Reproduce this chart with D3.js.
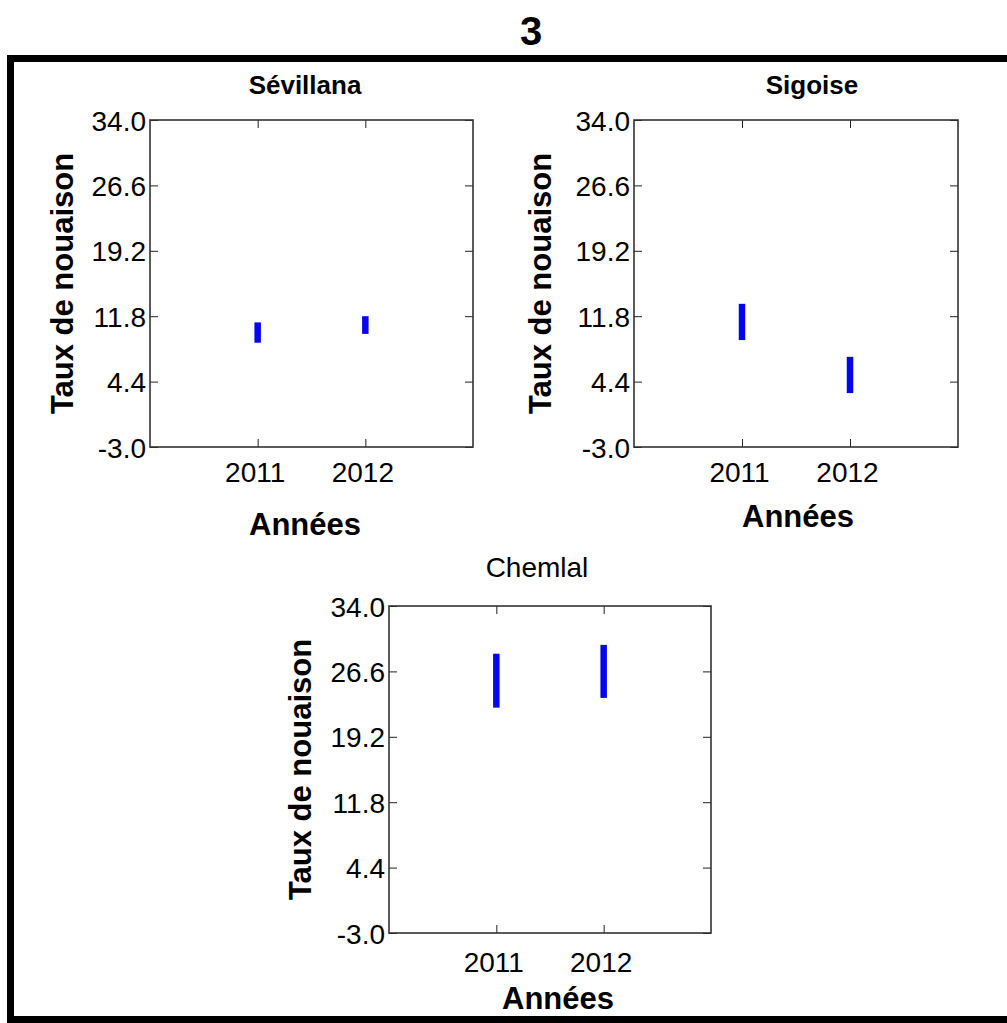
<!DOCTYPE html>
<html>
<head>
<meta charset="utf-8">
<script src="https://cdn.jsdelivr.net/npm/d3@7/dist/d3.min.js"></script>
<style>
  html, body { margin: 0; padding: 0; background: #fff; }
  svg { display: block; }
  text { font-family: "Liberation Sans", Arial, sans-serif; fill: #000; }
</style>
</head>
<body>
<div id="chart"></div>
<script>
// Fruit-set rate (taux de nouaison) ranges per olive variety and year
const years = [2011, 2012];
const yTicks = [-3.0, 4.4, 11.8, 19.2, 26.6, 34.0];
const varieties = ["Sévillana", "Sigoise", "Chemlal"];

const sevillanaLow  = [8.8, 9.8];
const sevillanaHigh = [11.1, 11.8];
const sigoiseLow    = [9.1, 3.1];
const sigoiseHigh   = [13.2, 7.2];
const chemlalLow    = [22.5, 23.6];
const chemlalHigh   = [28.6, 29.6];

const W = 1007, H = 1023;
const svg = d3.select("#chart").append("svg").attr("width", W).attr("height", H);

// figure number
svg.append("text").attr("x", 531).attr("y", 31)
  .attr("text-anchor", "middle").attr("dominant-baseline", "central")
  .style("font-size", "40px").style("font-weight", "bold").text("3");

// outer frame
svg.append("path")
  .attr("d", `M${W + 5},58.5 L10.5,58.5 L10.5,1019.5 L${W + 5},1019.5`)
  .attr("fill", "none").attr("stroke", "#000").attr("stroke-width", 7);

const fmtY = d => d3.format(".1f")(d).replace("\u2212", "-");

const panels = [
  { name: varieties[0], low: sevillanaLow, high: sevillanaHigh, x: 150, y: 120, w: 323, h: 327,
    titleBold: true, titleX: 305, titleY: 85, yLabelX: 62, xTickY: 472, xTitleX: 305, xTitleY: 524 },
  { name: varieties[1], low: sigoiseLow, high: sigoiseHigh, x: 634, y: 120, w: 324, h: 327,
    titleBold: true, titleX: 812, titleY: 85, yLabelX: 540, xTickY: 472, xTitleX: 798, xTitleY: 516 },
  { name: varieties[2], low: chemlalLow, high: chemlalHigh, x: 389, y: 606, w: 322, h: 327,
    titleBold: false, titleX: 537, titleY: 567, yLabelX: 300, xTickY: 962, xTitleX: 558, xTitleY: 998 }
];

panels.forEach(p => {
  const g = svg.append("g").attr("transform", `translate(${p.x},${p.y})`);
  const x = d3.scaleLinear().domain([2010, 2013]).range([0, p.w]);
  const y = d3.scaleLinear().domain([-3, 34]).range([p.h, 0]);

  // ticks pointing inward on all four sides
  const tickStyle = sel => {
    sel.select(".domain").remove();
    sel.selectAll(".tick line").attr("stroke", "#222").attr("stroke-width", 1);
    sel.selectAll(".tick text").style("font-size", "28px").attr("fill", "#000");
  };
  g.append("g").call(d3.axisLeft(y).tickValues(yTicks).tickFormat(fmtY)
      .tickSizeInner(-8).tickPadding(6))
    .call(tickStyle)
    .call(s => s.selectAll(".tick text").attr("x", -4).attr("dy", "0.36em"));
  g.append("g").attr("transform", `translate(${p.w},0)`)
    .call(d3.axisRight(y).tickValues(yTicks).tickSizeInner(-8).tickFormat(""))
    .call(tickStyle);
  g.append("g").attr("transform", `translate(0,${p.h})`)
    .call(d3.axisBottom(x).tickValues(years).tickFormat(d3.format("d"))
      .tickSizeInner(-8).tickPadding(0))
    .call(tickStyle)
    .call(s => s.selectAll(".tick text").attr("y", p.xTickY - p.y - p.h).attr("dy", "0.36em")
      .attr("dx", -3));
  g.append("g")
    .call(d3.axisTop(x).tickValues(years).tickSizeInner(-8).tickFormat(""))
    .call(tickStyle);

  // plot frame
  g.append("rect").attr("width", p.w).attr("height", p.h)
    .attr("fill", "none").attr("stroke", "#333").attr("stroke-width", 1.6);

  // range bars
  g.selectAll("line.bar").data(years).join("line").attr("class", "bar")
    .attr("x1", d => x(d)).attr("x2", d => x(d))
    .attr("y1", (d, i) => y(p.low[i])).attr("y2", (d, i) => y(p.high[i]))
    .attr("stroke", "#0505f0").attr("stroke-width", 6.5);

  // titles
  svg.append("text").attr("x", p.titleX).attr("y", p.titleY)
    .attr("text-anchor", "middle").attr("dominant-baseline", "central")
    .style("font-size", p.titleBold ? "26px" : "28px")
    .style("font-weight", p.titleBold ? "bold" : "normal").text(p.name);

  svg.append("text")
    .attr("transform", `translate(${p.yLabelX},${p.y + p.h / 2}) rotate(-90)`)
    .attr("text-anchor", "middle").attr("dominant-baseline", "central")
    .style("font-size", "31px").style("font-weight", "bold").text("Taux de nouaison");

  svg.append("text").attr("x", p.xTitleX).attr("y", p.xTitleY)
    .attr("text-anchor", "middle").attr("dominant-baseline", "central")
    .style("font-size", "31px").style("font-weight", "bold").text("Années");
});
</script>
</body>
</html>
